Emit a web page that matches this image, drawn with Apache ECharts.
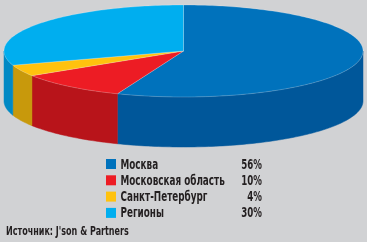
<!DOCTYPE html>
<html><head><meta charset="utf-8">
<script src="https://cdn.jsdelivr.net/npm/echarts@6/dist/echarts.min.js"></script>
<style>html,body{margin:0;padding:0;background:#d1d2d4}#c{width:367px;height:242px}</style>
</head><body><div id="c"></div>
<script>
const categories = ['Москва', 'Московская область', 'Санкт-Петербург', 'Регионы'];
const values = [56, 10, 4, 30];
const topColors = ['#0072bc', '#ed1c24', '#ffc20e', '#00aeef'];
const sideColors = ['#00579a', '#b8141a', '#c8990c', '#0089c4'];
const sourceText = "Источник: J'son & Partners";

const FONT = '"DejaVu Sans", sans-serif';
const TXT = '#231f20';
const geo = { cx: 183.5, cy: 51, rx: 179.5, ry: 46, depth: 50 };
const total = values.reduce((a, b) => a + b, 0);

function pt(t, dy) {
  return [geo.cx + geo.rx * Math.sin(t), geo.cy - geo.ry * Math.cos(t) + dy];
}
function arc(a, b, dy) {
  const n = Math.max(2, Math.ceil((b - a) / 0.02));
  const out = [];
  for (let k = 0; k <= n; k++) out.push(pt(a + (b - a) * k / n, dy));
  return out;
}

function makeRender(i) {
  return function (params, api) {
    let before = 0;
    for (let j = 0; j < i; j++) before += values[j];
    const v = api.value(0);
    const s = before / total * Math.PI * 2;
    const e = (before + v) / total * Math.PI * 2;
    const children = [];
    const a = Math.max(s, Math.PI / 2), b = Math.min(e, Math.PI * 1.5);
    if (a < b) {
      const pts = arc(a, b, 0).concat(arc(a, b, geo.depth).reverse());
      children.push({ type: 'polygon', shape: { points: pts },
        style: { fill: sideColors[i], stroke: sideColors[i], lineWidth: 0.5 } });
    }
    const topPts = [[geo.cx, geo.cy]].concat(arc(s, e, 0));
    children.push({ type: 'polygon', shape: { points: topPts },
      style: { fill: topColors[i], stroke: 'rgba(255,255,255,0.35)', lineWidth: 0.6 } });
    return { type: 'group', children: children };
  };
}

const series = categories.map((name, i) => ({
  type: 'custom',
  name: name,
  coordinateSystem: 'none',
  renderItem: makeRender(i),
  itemStyle: { color: topColors[i] },
  data: [values[i]],
  silent: true
}));

// legend drawn as graphic elements (condensed via horizontal scale)
const legendTop = 164, legendPitch = 16.3;
const graphic = [];
categories.forEach((name, i) => {
  const yc = legendTop + i * legendPitch;
  graphic.push({ type: 'rect', x: 106, y: yc - 5, shape: { x: 0, y: 0, width: 10, height: 10 },
    style: { fill: topColors[i] }, silent: true });
  graphic.push({ type: 'text', x: 120.5, y: yc + 0.8, scaleX: 0.605, silent: true,
    style: { text: name, fontFamily: FONT, fontSize: 14.6, fontWeight: 'bold', fill: TXT,
      textAlign: 'left', textVerticalAlign: 'middle' } });
  graphic.push({ type: 'text', x: 262, y: yc + 0.8, scaleX: 0.595, silent: true,
    style: { text: values[i] + '%', fontFamily: FONT, fontSize: 14.6, fontWeight: 'bold', fill: TXT,
      textAlign: 'right', textVerticalAlign: 'middle' } });
});
graphic.push({ type: 'text', x: 6, y: 232, scaleX: 0.67, silent: true,
  style: { text: sourceText, fontFamily: FONT, fontSize: 12, fontWeight: 'bold', fill: TXT,
    textAlign: 'left', textVerticalAlign: 'middle' } });

const chart = echarts.init(document.getElementById('c'), null, { renderer: 'canvas' });
chart.setOption({
  backgroundColor: '#d1d2d4',
  animation: false,
  graphic: graphic,
  series: series
});
</script></body></html>
